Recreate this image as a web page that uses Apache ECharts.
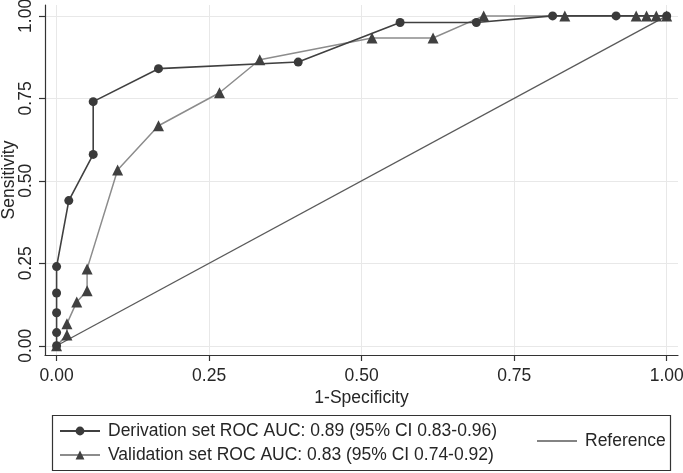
<!DOCTYPE html>
<html><head><meta charset="utf-8">
<script src="https://cdn.jsdelivr.net/npm/echarts@6/dist/echarts.min.js"></script>
<style>html,body{margin:0;padding:0;background:#fff}#c{width:683px;height:473px}</style>
</head><body><div id="c"></div>
<script>
const tickValues = [0, 0.25, 0.5, 0.75, 1];
const tickLabels = ['0.00', '0.25', '0.50', '0.75', '1.00'];
const seriesNames = [
  'Derivation set ROC AUC: 0.89 (95% CI 0.83-0.96)',
  'Validation set ROC AUC: 0.83 (95% CI 0.74-0.92)',
  'Reference'
];
const derivX = [0, 0, 0, 0, 0, 0.02, 0.06, 0.06, 0.167, 0.396, 0.563, 0.688, 0.813, 0.917, 1];
const derivY = [0, 0.04, 0.10, 0.16, 0.24, 0.44, 0.58, 0.74, 0.84, 0.86, 0.98, 0.98, 1, 1, 1];
const validX = [0, 0.017, 0.017, 0.033, 0.05, 0.05, 0.10, 0.167, 0.267, 0.333, 0.517, 0.617, 0.70, 0.833, 0.95, 0.967, 0.983, 1];
const validY = [0, 0.033, 0.067, 0.133, 0.167, 0.233, 0.533, 0.667, 0.767, 0.867, 0.933, 0.933, 1, 1, 1, 1, 1, 1];
const refX = [0, 1];
const refY = [0, 1];

const zip = (xs, ys) => xs.map((x, i) => [x, ys[i]]);
const FONT = 'Liberation Sans';
const FS = 17.5;
const TXT = '#262626';
const fmt = v => { const i = tickValues.findIndex(t => Math.abs(t - v) < 1e-9); return i >= 0 ? tickLabels[i] : ''; };

const chart = echarts.init(document.getElementById('c'), null, { renderer: 'canvas' });
chart.setOption({
  animation: false,
  backgroundColor: '#fff',
  textStyle: { fontFamily: FONT },
  grid: { left: 45, right: 5, top: 5, bottom: 118, containLabel: false, outerBoundsMode: 'none' },
  xAxis: {
    type: 'value', min: -0.019, max: 1.0185,
    name: '1-Specificity', nameLocation: 'middle', nameGap: 34, nameMoveOverlap: false,
    nameTextStyle: { fontSize: FS, color: TXT, fontFamily: FONT },
    axisLine: { show: true, onZero: false, lineStyle: { color: '#333', width: 1.2 } },
    axisTick: { show: true, length: 6, customValues: tickValues, lineStyle: { color: '#333', width: 1.2 } },
    axisLabel: { customValues: tickValues, formatter: fmt, fontSize: FS, color: TXT, margin: 12, fontFamily: FONT },
    splitLine: { show: true, lineStyle: { color: '#e8e8e8', width: 1 } }
  },
  yAxis: {
    type: 'value', min: -0.028, max: 1.033,
    name: 'Sensitivity', nameLocation: 'middle', nameGap: 27, nameMoveOverlap: false,
    nameTextStyle: { fontSize: FS, color: TXT, fontFamily: FONT },
    axisLine: { show: true, onZero: false, lineStyle: { color: '#333', width: 1.2 } },
    axisTick: { show: true, length: 6, customValues: tickValues, lineStyle: { color: '#333', width: 1.2 } },
    axisLabel: { customValues: tickValues, formatter: fmt, fontSize: FS, color: TXT, margin: 10, rotate: 90, fontFamily: FONT },
    splitLine: { show: true, lineStyle: { color: '#e8e8e8', width: 1 } }
  },
  graphic: [{
    type: 'rect', silent: true,
    shape: { x: 52.5, y: 415.5, width: 618, height: 55 },
    style: { fill: 'none', stroke: '#333', lineWidth: 1.2 }
  }],
  legend: [{
    data: [seriesNames[0], seriesNames[1]],
    orient: 'vertical', left: 59, top: 421,
    itemWidth: 40, itemHeight: 11, itemGap: 4, padding: 0,
    textStyle: { fontSize: FS, color: TXT, lineHeight: 20, fontFamily: FONT, padding: [0, 0, 0, 3] }
  }, {
    data: [seriesNames[2]],
    left: 537, top: 431, icon: 'rect',
    itemWidth: 40, itemHeight: 1.3, padding: 0,
    textStyle: { fontSize: FS, color: TXT, lineHeight: 20, fontFamily: FONT, padding: [0, 0, 0, 3] }
  }],
  series: [
    {
      name: seriesNames[2], type: 'line', data: zip(refX, refY), symbol: 'none',
      lineStyle: { color: '#5a5a5a', width: 1.3 }, itemStyle: { color: '#5a5a5a' }, z: 1
    },
    {
      name: seriesNames[1], type: 'line', data: zip(validX, validY),
      symbol: 'triangle', symbolSize: 11,
      lineStyle: { color: '#8c8c8c', width: 1.5 }, itemStyle: { color: '#404040' }, z: 2
    },
    {
      name: seriesNames[0], type: 'line', data: zip(derivX, derivY),
      symbol: 'circle', symbolSize: 9,
      lineStyle: { color: '#404040', width: 1.6 }, itemStyle: { color: '#3a3a3a' }, z: 3
    }
  ]
});
</script></body></html>
